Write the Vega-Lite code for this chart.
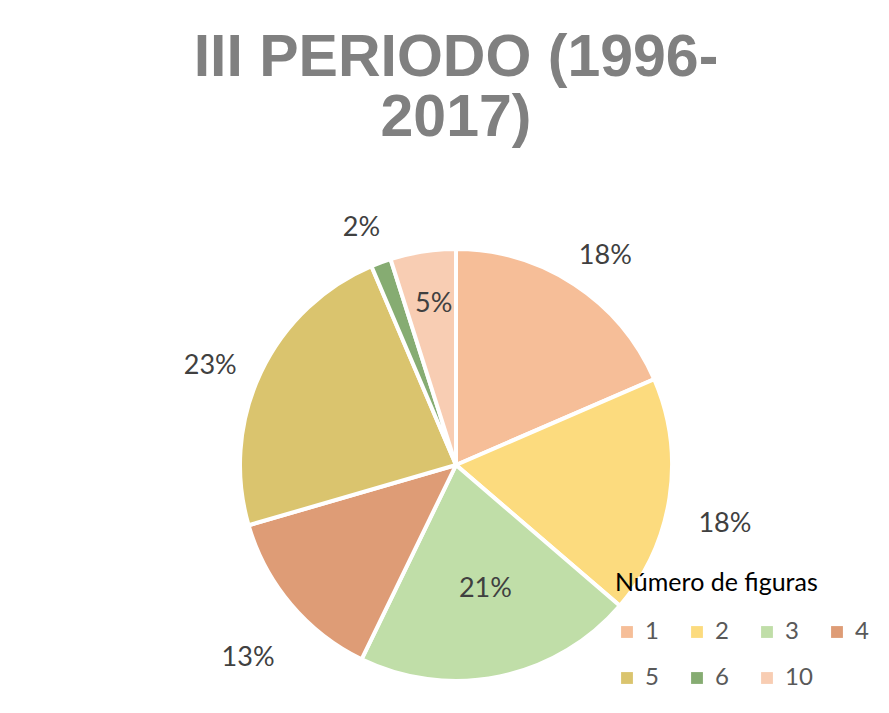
{
  "$schema": "https://vega.github.io/schema/vega-lite/v6.json",
  "autosize": "none",
  "width": 432,
  "height": 432,
  "padding": {"left": 240, "top": 249, "right": 217, "bottom": 32},
  "background": "white",
  "title": {
    "text": ["III PERIODO (1996-", "2017)"],
    "font": "Liberation Sans",
    "fontSize": 59,
    "fontWeight": "bold",
    "color": "#808080",
    "lineHeight": 60,
    "anchor": "middle",
    "offset": 52
  },
  "data": {
    "values": [
      {"figuras": 1, "pct": 18.5, "label": "18%"},
      {"figuras": 2, "pct": 17.8, "label": "18%"},
      {"figuras": 3, "pct": 20.9, "label": "21%"},
      {"figuras": 4, "pct": 13.3, "label": "13%"},
      {"figuras": 5, "pct": 23.1, "label": "23%"},
      {"figuras": 6, "pct": 1.5, "label": "2%"},
      {"figuras": 10, "pct": 4.9, "label": "5%"}
    ]
  },
  "encoding": {
    "theta": {"field": "pct", "type": "quantitative", "stack": true},
    "order": {"field": "figuras", "type": "quantitative"}
  },
  "layer": [
    {
      "mark": {"type": "arc", "outerRadius": 216, "stroke": "white", "strokeWidth": 4},
      "encoding": {
        "color": {
          "field": "figuras",
          "type": "ordinal",
          "scale": {
            "domain": [1, 2, 3, 4, 5, 6, 10],
            "range": ["#F6BE98", "#FCDB7E", "#C0DEA8", "#DE9C76", "#DAC46E", "#86AC72", "#F8CDB3"]
          },
          "legend": {
            "orient": "none",
            "legendX": 375,
            "legendY": 322,
            "title": "Número de figuras",
            "titleFont": "Lato",
            "titleFontSize": 25,
            "titleFontWeight": "normal",
            "titleColor": "#000000",
            "titleLimit": 400,
            "titlePadding": 24,
            "labelFont": "Lato",
            "labelFontSize": 24,
            "labelColor": "#595959",
            "labelOffset": 6,
            "symbolType": "square",
            "symbolSize": 140,
            "symbolStrokeWidth": 0,
            "symbolOpacity": 1,
            "columns": 4,
            "direction": "horizontal",
            "gridAlign": "all",
            "columnPadding": 12,
            "rowPadding": 22
          }
        }
      }
    },
    {
      "mark": {"type": "text", "radius": 145, "dy": -18, "font": "Lato", "fontSize": 27, "align": "center", "baseline": "middle"},
      "encoding": {
        "text": {"field": "label"},
        "color": {"value": "#404040"},
        "opacity": {"condition": {"test": "datum.figuras == 3 || datum.figuras == 10", "value": 1}, "value": 0}
      }
    },
    {
      "mark": {"type": "text", "radius": 272, "dy": 18, "font": "Lato", "fontSize": 27, "align": "center", "baseline": "middle"},
      "encoding": {
        "text": {"field": "label"},
        "color": {"value": "#404040"},
        "opacity": {"condition": {"test": "datum.figuras == 3 || datum.figuras == 10", "value": 0}, "value": 1}
      }
    }
  ]
}
